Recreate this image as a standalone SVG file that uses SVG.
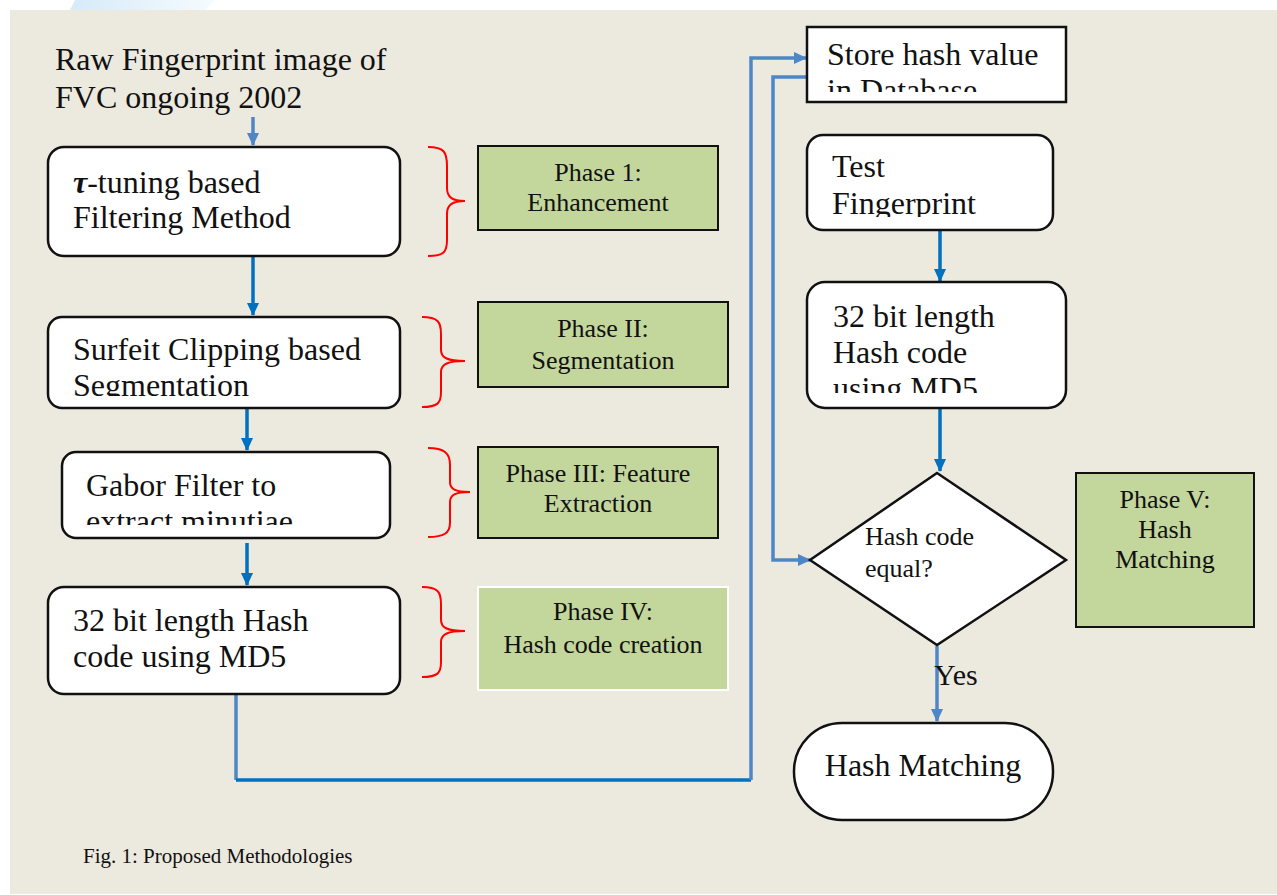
<svg xmlns="http://www.w3.org/2000/svg" width="1277" height="895" viewBox="0 0 1277 895">
  <style>
    .t { font-family: "Liberation Serif", "Times New Roman", serif; fill: #111; }
    .big { font-size: 32px; }
    .ph { font-size: 26px; }
    .box { fill: #fff; stroke: #111; stroke-width: 2.5; }
    .phase { fill: #C3D69B; stroke: #111; stroke-width: 2; }
    .brace { fill: none; stroke: #FF0000; stroke-width: 2; }
    .c1 { fill: none; stroke: #0070C0; stroke-width: 3.5; }
    .c2 { fill: none; stroke: #4F86C6; stroke-width: 3.5; }
  </style>
  <defs>
    <marker id="ah1" markerUnits="userSpaceOnUse" markerWidth="14" markerHeight="14" refX="12" refY="7" orient="auto">
      <path d="M0,1 L13,7 L0,13 Z" fill="#0070C0"/>
    </marker>
    <marker id="ah2" markerUnits="userSpaceOnUse" markerWidth="14" markerHeight="14" refX="12" refY="7" orient="auto">
      <path d="M0,1 L13,7 L0,13 Z" fill="#4F86C6"/>
    </marker>
    <linearGradient id="haze" x1="0" y1="0" x2="1" y2="0">
      <stop offset="0" stop-color="#d6eaf8"/>
      <stop offset="1" stop-color="#f6fbff"/>
    </linearGradient>
    <clipPath id="cl-seg"><rect x="50" y="319" width="348" height="77"/></clipPath>
    <clipPath id="cl-gabor"><rect x="64" y="454" width="324" height="71"/></clipPath>
    <clipPath id="cl-store"><rect x="809" y="29" width="255" height="63"/></clipPath>
    <clipPath id="cl-test"><rect x="809" y="137" width="242" height="80"/></clipPath>
    <clipPath id="cl-md5"><rect x="809" y="284" width="255" height="109"/></clipPath>
  </defs>

  <!-- page -->
  <rect x="0" y="0" width="1277" height="895" fill="#fff"/>
  <polygon points="75,0 215,0 205,10 70,10" fill="url(#haze)"/>
  <rect x="10" y="10" width="1267" height="884" fill="#ECE9DF"/>

  <!-- source label -->
  <g id="source">
    <text class="t big" x="55" y="70">Raw Fingerprint image of</text>
    <text class="t big" x="55" y="108">FVC ongoing 2002</text>
  </g>

  <!-- connectors -->
  <g id="connectors">
    <line class="c2" x1="253" y1="117" x2="253" y2="145" marker-end="url(#ah2)"/>
    <line class="c1" x1="253" y1="257" x2="253" y2="315" marker-end="url(#ah1)"/>
    <line class="c1" x1="247" y1="409" x2="247" y2="450" marker-end="url(#ah1)"/>
    <line class="c1" x1="247" y1="543" x2="247" y2="585" marker-end="url(#ah1)"/>
    <path class="c2" d="M236,695 L236,780"/>
    <path class="c1" d="M236,780 L751,780"/>
    <path class="c2" d="M751,780 L751,58 L806,58" marker-end="url(#ah2)"/>
    <path class="c2" d="M808,77 L773,77 L773,560 L810,560" marker-end="url(#ah2)"/>
    <line class="c1" x1="940" y1="231" x2="940" y2="281" marker-end="url(#ah1)"/>
    <line class="c1" x1="940" y1="409" x2="940" y2="471" marker-end="url(#ah1)"/>
    <line class="c2" x1="937" y1="646" x2="937" y2="721" marker-end="url(#ah2)"/>
  </g>

  <g id="filter">
    <rect class="box" x="48" y="147" width="352" height="109" rx="16"/>
    <text class="t big" x="73" y="193"><tspan font-weight="bold" font-style="italic">τ</tspan>-tuning based</text>
    <text class="t big" x="73" y="228">Filtering Method</text>
  </g>

  <g id="segment">
    <rect class="box" x="48" y="317" width="352" height="91" rx="14"/>
    <g clip-path="url(#cl-seg)">
      <text class="t big" x="73" y="360">Surfeit Clipping based</text>
      <text class="t big" x="73" y="396">Segmentation</text>
    </g>
  </g>

  <g id="gabor">
    <rect class="box" x="62" y="452" width="328" height="86" rx="14"/>
    <g clip-path="url(#cl-gabor)">
      <text class="t big" x="86" y="496">Gabor Filter to</text>
      <text class="t big" x="86" y="532">extract minutiae</text>
    </g>
  </g>

  <g id="hash-left">
    <rect class="box" x="48" y="587" width="352" height="107" rx="16"/>
    <text class="t big" x="73" y="631">32 bit length Hash</text>
    <text class="t big" x="73" y="667">code using MD5</text>
  </g>

  <!-- phase braces -->
  <g id="braces">
    <path class="brace" d="M428,147 C444,147 447,152 447,166 L447,188 C447,197 452,201 465,201 C452,201 447,205 447,214 L447,240 C447,252 444,256 428,256"/>
    <path class="brace" d="M422,317 C438,317 441,322 441,334 L441,350 C441,358 448,361 465,361 C448,361 441,364 441,372 L441,392 C441,403 438,407 422,407"/>
    <path class="brace" d="M428,448 C444,448 450,453 450,465 L450,482 C450,489 455,492 470,492 C455,492 450,495 450,502 L450,523 C450,533 444,537 428,537"/>
    <path class="brace" d="M422,587 C438,587 441,592 441,604 L441,620 C441,628 448,631 465,631 C448,631 441,634 441,642 L441,662 C441,673 438,677 422,677"/>
  </g>

  <g id="phase1">
    <rect class="phase" x="478" y="146" width="240" height="84"/>
    <text class="t ph" x="598" y="181" text-anchor="middle">Phase 1:</text>
    <text class="t ph" x="598" y="211" text-anchor="middle">Enhancement</text>
  </g>
  <g id="phase2">
    <rect class="phase" x="478" y="302" width="250" height="85"/>
    <text class="t ph" x="603" y="337" text-anchor="middle">Phase II:</text>
    <text class="t ph" x="603" y="369" text-anchor="middle">Segmentation</text>
  </g>
  <g id="phase3">
    <rect class="phase" x="478" y="447" width="240" height="91"/>
    <text class="t ph" x="598" y="482" text-anchor="middle">Phase III: Feature</text>
    <text class="t ph" x="598" y="512" text-anchor="middle">Extraction</text>
  </g>
  <g id="phase4">
    <rect x="478" y="587" width="250" height="103" fill="#C3D69B" stroke="#fff" stroke-width="2"/>
    <text class="t ph" x="603" y="620" text-anchor="middle">Phase IV:</text>
    <text class="t ph" x="603" y="653" text-anchor="middle">Hash code creation</text>
  </g>

  <g id="store">
    <rect class="box" x="807" y="27" width="259" height="75"/>
    <g clip-path="url(#cl-store)">
      <text class="t big" x="827" y="65">Store hash value</text>
      <text class="t big" x="827" y="101">in Database</text>
    </g>
  </g>

  <g id="test">
    <rect class="box" x="807" y="135" width="246" height="95" rx="16"/>
    <g clip-path="url(#cl-test)">
      <text class="t big" x="832" y="177">Test</text>
      <text class="t big" x="832" y="214">Fingerprint</text>
    </g>
  </g>

  <g id="hash-right">
    <rect class="box" x="807" y="282" width="259" height="126" rx="18"/>
    <g clip-path="url(#cl-md5)">
      <text class="t big" x="833" y="327">32 bit length</text>
      <text class="t big" x="833" y="363">Hash code</text>
      <text class="t big" x="833" y="399">using MD5</text>
    </g>
  </g>

  <g id="decision">
    <polygon class="box" points="937,473 1066,560 937,645 810,560"/>
    <text class="t" x="865" y="545" font-size="26">Hash code</text>
    <text class="t" x="865" y="577" font-size="26">equal?</text>
  </g>

  <g id="phase5">
    <rect class="phase" x="1076" y="473" width="178" height="154"/>
    <text class="t ph" x="1165" y="508" text-anchor="middle">Phase V:</text>
    <text class="t ph" x="1165" y="538" text-anchor="middle">Hash</text>
    <text class="t ph" x="1165" y="568" text-anchor="middle">Matching</text>
  </g>

  <text class="t" x="934" y="685" font-size="30">Yes</text>

  <g id="match">
    <rect class="box" x="794" y="723" width="259" height="97" rx="48"/>
    <text class="t big" x="923" y="776" text-anchor="middle">Hash Matching</text>
  </g>

  <text class="t" x="83" y="863" font-size="21">Fig. 1: Proposed Methodologies</text>
</svg>
